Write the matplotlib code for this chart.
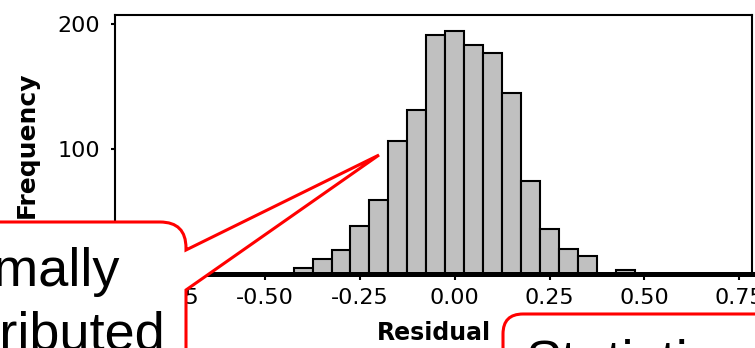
import matplotlib
matplotlib.use("Agg")
import matplotlib.pyplot as plt
from matplotlib.path import Path
from matplotlib.patches import PathPatch

# residual histogram, bins of width 0.05
bin_centers = [-0.40, -0.35, -0.30, -0.25, -0.20, -0.15, -0.10, -0.05, 0.00,
               0.05, 0.10, 0.15, 0.20, 0.25, 0.30, 0.35, 0.40, 0.45]
counts = [5, 12, 19, 38, 59, 106, 131, 191, 194,
          183, 177, 145, 74, 36, 20, 14, 0, 3]
x_ticks = [-0.75, -0.50, -0.25, 0.00, 0.25, 0.50, 0.75]
y_ticks = [0, 100, 200]

W, H = 755, 348
plt.rcParams["axes.unicode_minus"] = False


def fig_xy(x, y):
    # pixel coords measured from the top-left corner -> figure fraction
    return (x / W, 1 - y / H)


fig = plt.figure(figsize=(W / 100, H / 100), dpi=100)
ax = fig.add_axes([115 / W, 1 - 274 / H, (752 - 115) / W, (274 - 15) / H])

ax.bar(bin_centers, counts, width=0.05, color="#c0c0c0", edgecolor="black",
       linewidth=1.5, zorder=2)
ax.set_xlim(-0.896, 0.784)
ax.set_ylim(0, 207)

ax.set_xticks(x_ticks)
ax.set_xticklabels([f"{t:.2f}" for t in x_ticks])
ax.set_yticks(y_ticks)
ax.tick_params(axis="x", length=4.3, width=1.5, pad=6, labelsize=16)
ax.tick_params(axis="y", length=3, width=1.5, pad=8, labelsize=16)

for side in ["top", "left", "right"]:
    ax.spines[side].set_linewidth(1.5)
ax.spines["bottom"].set_linewidth(3.6)
ax.spines["bottom"].set_zorder(3)

ax.set_xlabel("Residual", fontsize=17, fontweight="bold", labelpad=9)
ax.set_ylabel("Frequency", fontsize=18, fontweight="bold", labelpad=13)

# ── callout boxes ──
red = "#ff0000"
left_pts = [(-20, 222), (160, 222), (186, 222), (186, 248), (186, 250),
            (379, 155), (186, 290), (186, 370), (-20, 370), (-20, 222)]
left_codes = [Path.MOVETO, Path.LINETO, Path.CURVE3, Path.CURVE3, Path.LINETO,
              Path.LINETO, Path.LINETO, Path.LINETO, Path.LINETO, Path.CLOSEPOLY]
left_path = Path([fig_xy(*p) for p in left_pts], left_codes)
fig.add_artist(PathPatch(left_path, facecolor="white", edgecolor=red,
                         linewidth=2.2, transform=fig.transFigure,
                         zorder=10, clip_on=False))

right_pts = [(503, 370), (503, 334), (503, 314), (523, 314), (780, 314),
             (780, 370), (503, 370)]
right_codes = [Path.MOVETO, Path.LINETO, Path.CURVE3, Path.CURVE3, Path.LINETO,
               Path.LINETO, Path.CLOSEPOLY]
right_path = Path([fig_xy(*p) for p in right_pts], right_codes)
fig.add_artist(PathPatch(right_path, facecolor="white", edgecolor=red,
                         linewidth=2.2, transform=fig.transFigure,
                         zorder=10, clip_on=False))

callout_font = dict(fontsize=39, family="Liberation Sans", color="black",
                    zorder=11, va="baseline")
fig.text(*fig_xy(120, 286), "Normally", ha="right", **callout_font)
fig.text(*fig_xy(166, 350), "distributed", ha="right", **callout_font)
fig.text(*fig_xy(525, 377), "Statistics", ha="left", **callout_font)

fig.savefig("out.png", dpi=100)
